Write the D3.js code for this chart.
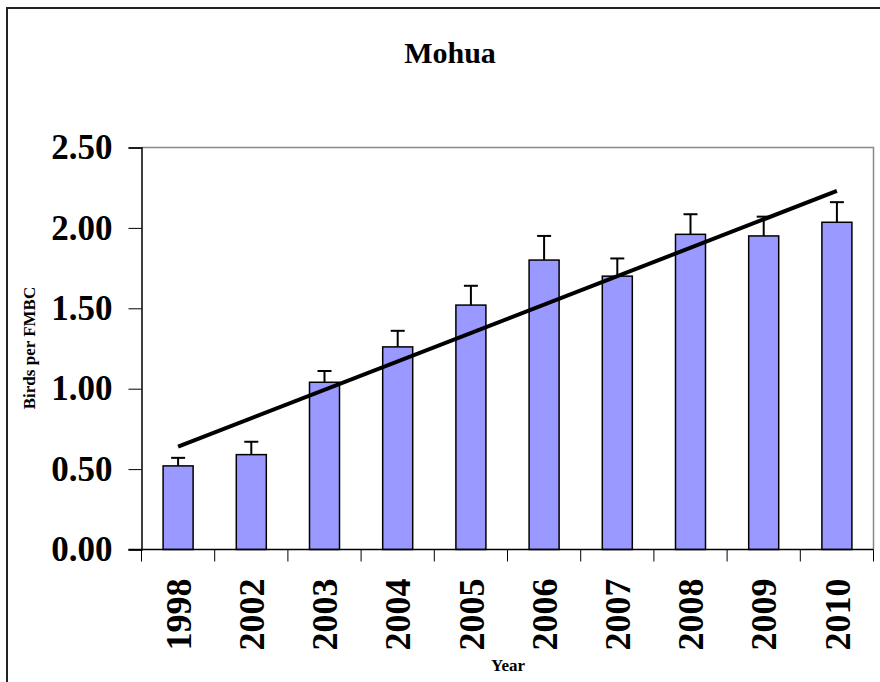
<!DOCTYPE html>
<html lang="en">
	<head>
		<meta charset="utf-8">
		<title>Mohua</title>
		<script type="text/javascript" src="https://cdn.jsdelivr.net/npm/d3@7"></script>
		<style>
			body { margin: 0; background: #fff; }
			text { font-family: "Liberation Serif", "Times New Roman", serif; font-weight: bold; }
		</style>
	</head>
	<body>
		<script type="text/javascript">
			// data
			var years = ["1998", "2002", "2003", "2004", "2005", "2006", "2007", "2008", "2009", "2010"];
			var birds = [0.52, 0.59, 1.04, 1.26, 1.52, 1.80, 1.70, 1.96, 1.95, 2.035];
			var errUp = [0.05, 0.08, 0.07, 0.10, 0.12, 0.15, 0.11, 0.125, 0.12, 0.125];
			var trend = [0.64, 2.23]; // linear trend at first and last year
			var yTicks = [0, 0.5, 1, 1.5, 2, 2.5];

			//Width and height of svg
			var w = 880;
			var h = 682;
			var plotLeft = 141.5, plotRight = 873.5, plotTop = 147.5, plotBottom = 549.5;

			var svg = d3.select("body")
						.append("svg")
						.attr("width", w)
						.attr("height", h);

			// outer chart frame
			svg.append("rect")
				.attr("x", 7)
				.attr("y", 8)
				.attr("width", w + 20)
				.attr("height", h + 20)
				.attr("fill", "none")
				.attr("stroke", "#222")
				.attr("stroke-width", 2);

			//Create scale functions
			var xScale = d3.scaleBand()
						.domain(years)
						.range([plotLeft, plotRight]);

			var yScale = d3.scaleLinear()
						.domain([0, 2.5])
						.range([plotBottom, plotTop]);

			// plot area border (top and right are grey)
			svg.append("path")
				.attr("d", "M" + plotLeft + "," + plotTop + "H" + plotRight + "V" + plotBottom)
				.attr("fill", "none")
				.attr("stroke", "#888")
				.attr("stroke-width", 1.5);

			// bars
			svg.selectAll("rect.bar")
				.data(birds)
				.enter()
				.append("rect")
				.attr("class", "bar")
				.attr("x", function(d, i) { return xScale(years[i]) + xScale.bandwidth() * 0.295; })
				.attr("y", function(d) { return yScale(d); })
				.attr("width", xScale.bandwidth() * 0.41)
				.attr("height", function(d) { return yScale(0) - yScale(d); })
				.attr("fill", "#9999ff")
				.attr("stroke", "#000")
				.attr("stroke-width", 1.5);

			// error bars (upper only)
			var errs = svg.append("g").attr("stroke", "#000").attr("stroke-width", 2);
			birds.forEach(function(d, i) {
				var cx = xScale(years[i]) + xScale.bandwidth() / 2;
				errs.append("line")
					.attr("x1", cx).attr("x2", cx)
					.attr("y1", yScale(d)).attr("y2", yScale(d + errUp[i]));
				errs.append("line")
					.attr("x1", cx - 7).attr("x2", cx + 7)
					.attr("y1", yScale(d + errUp[i])).attr("y2", yScale(d + errUp[i]));
			});

			// trend line
			var line = d3.line()
				.x(function(d, i) { return xScale(years[i === 0 ? 0 : years.length - 1]) + xScale.bandwidth() / 2; })
				.y(function(d) { return yScale(d); });
			svg.append("path")
				.attr("d", line(trend))
				.attr("stroke", "#000")
				.attr("stroke-width", 4)
				.attr("fill", "none");

			//Define Y axis
			var yAxis = d3.axisLeft(yScale)
						.tickValues(yTicks)
						.tickSize(13)
						.tickPadding(16)
						.tickFormat(d3.format(".2f"));

			var gy = svg.append("g")
				.attr("transform", "translate(" + plotLeft + ",0)")
				.call(yAxis);
			gy.select(".domain").attr("stroke", "#000").attr("stroke-width", 1.5);
			gy.selectAll(".tick line").attr("stroke", "#000");
			gy.selectAll("text")
				.attr("font-size", "35px")
				.attr("font-family", "Liberation Serif, serif")
				.attr("font-weight", "bold")
				.attr("fill", "#000");

			// X axis with ticks between categories
			svg.append("line")
				.attr("x1", plotLeft - 13).attr("x2", plotRight)
				.attr("y1", plotBottom).attr("y2", plotBottom)
				.attr("stroke", "#000")
				.attr("stroke-width", 1.5);
			svg.selectAll("line.xtick")
				.data(years.concat(["end"]))
				.enter()
				.append("line")
				.attr("class", "xtick")
				.attr("x1", function(d, i) { return plotLeft + i * xScale.step(); })
				.attr("x2", function(d, i) { return plotLeft + i * xScale.step(); })
				.attr("y1", plotBottom)
				.attr("y2", plotBottom + 12)
				.attr("stroke", "#000");

			svg.selectAll("text.xlab")
				.data(years)
				.enter()
				.append("text")
				.attr("class", "xlab")
				.attr("transform", function(d) {
					return "translate(" + (xScale(d) + xScale.bandwidth() / 2) + "," + (plotBottom + 29) + ") rotate(-90)";
				})
				.attr("text-anchor", "end")
				.attr("dy", "0.35em")
				.attr("font-size", "36px")
				.text(function(d) { return d; });

			// titles
			svg.append("text")
				.attr("x", 450)
				.attr("y", 63)
				.attr("text-anchor", "middle")
				.attr("font-size", "30px")
				.text("Mohua");

			svg.append("text")
				.attr("x", 508)
				.attr("y", 671)
				.attr("text-anchor", "middle")
				.attr("font-size", "17px")
				.text("Year");

			svg.append("text")
				.attr("transform", "translate(35,348) rotate(-90)")
				.attr("text-anchor", "middle")
				.attr("font-size", "17px")
				.text("Birds per FMBC");
		</script>
	</body>
</html>
